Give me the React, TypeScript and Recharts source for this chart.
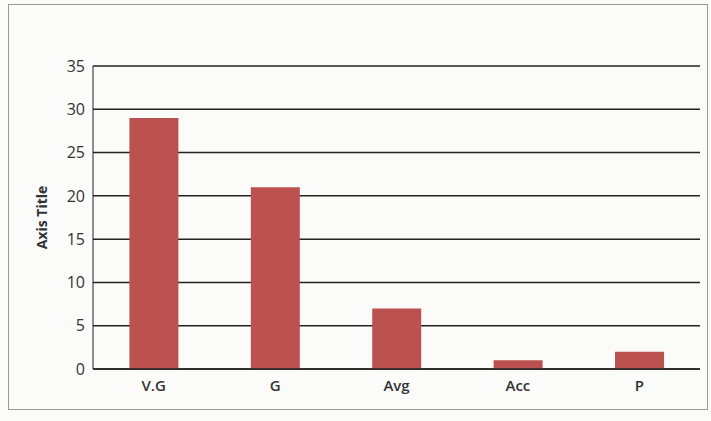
import React from 'react';
import { BarChart, Bar, XAxis, YAxis, CartesianGrid, Label } from 'recharts';

const categories = ['V.G', 'G', 'Avg', 'Acc', 'P'];
const counts = [29, 21, 7, 1, 2];
const yTicks = [0, 5, 10, 15, 20, 25, 30, 35];

const data = categories.map((name, i) => ({ name, value: counts[i] }));

const font = '"Open Sans", "Liberation Sans", sans-serif';

export default function App() {
  return (
    <div style={{ position: 'absolute', left: 0, top: 0, width: 711, height: 421, background: '#fbfbfa', fontFamily: font }}>
      <div style={{ position: 'absolute', left: 8, top: 4, width: 700, height: 406, border: '1px solid #9a9a9a', boxSizing: 'border-box' }} />
      <BarChart
        width={711}
        height={421}
        data={data}
        margin={{ top: 66, right: 11, bottom: 22, left: 0 }}
        barCategoryGap="30%"
        style={{ position: 'absolute', left: 0, top: 0 }}
      >
        <CartesianGrid vertical={false} stroke="#222" strokeWidth={1.5} />
        <XAxis
          dataKey="name"
          height={30}
          tickLine={false}
          tickSize={0}
          tickMargin={11}
          axisLine={{ stroke: '#222', strokeWidth: 1.5 }}
          tick={{ fill: '#333', fontSize: 15, fontWeight: 600, fontFamily: font }}
        />
        <YAxis
          width={93}
          domain={[0, 35]}
          ticks={yTicks}
          tickLine={false}
          tickSize={0}
          tickMargin={8}
          axisLine={{ stroke: '#222', strokeWidth: 1 }}
          tick={{ fill: '#333', fontSize: 16, fontFamily: font }}
        >
          <Label
            value="Axis Title"
            angle={-90}
            position="center"
            dx={-4}
            style={{ fill: '#333', fontSize: 14, fontWeight: 700, fontFamily: font }}
          />
        </YAxis>
        <Bar dataKey="value" fill="#bb524f" isAnimationActive={false} />
      </BarChart>
    </div>
  );
}
